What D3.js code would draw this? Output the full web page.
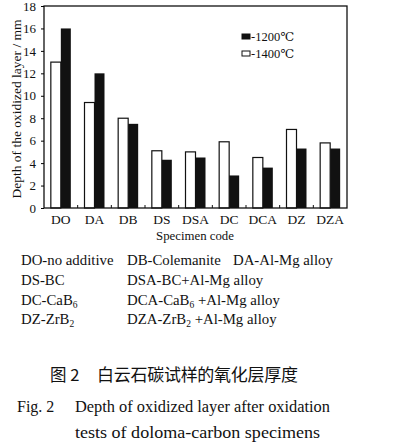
<!DOCTYPE html>
<html>
<head>
<meta charset="utf-8">
<script src="https://cdn.jsdelivr.net/npm/d3@7"></script>
<style>
  body { margin: 0; background: #fff; }
  svg text { font-family: "Liberation Serif", "DejaVu Serif", serif; fill: #111; }
</style>
</head>
<body>
<div id="chart"></div>
<script>
const codes = ['DO', 'DA', 'DB', 'DS', 'DSA', 'DC', 'DCA', 'DZ', 'DZA']
const t1400 = [13.0, 9.4, 8.0, 5.1, 5.0, 5.9, 4.5, 7.0, 5.8]
const t1200 = [16.0, 12.0, 7.5, 4.3, 4.5, 2.9, 3.6, 5.3, 5.3]
const yTicks = [0, 2, 4, 6, 8, 10, 12, 14, 16, 18]

const width = 397
const height = 445
const m = { left: 44, top: 6, right: 347, bottom: 208 }

const svg = d3.select('#chart')
  .append('svg')
  .attr('width', width)
  .attr('height', height)

const x = d3.scaleBand().domain(codes).range([m.left, m.right]).padding(0)
const y = d3.scaleLinear().domain([0, 18]).range([m.bottom, m.top])
const bw = 10

// bars
const g = svg.append('g')
g.selectAll('.b1400')
  .data(codes)
  .enter().append('rect')
  .attr('x', (d) => x(d) + x.bandwidth() / 2 - bw)
  .attr('y', (d, i) => y(t1400[i]))
  .attr('width', bw)
  .attr('height', (d, i) => y(0) - y(t1400[i]))
  .attr('fill', '#fff')
  .attr('stroke', '#111')
  .attr('stroke-width', 1.2)

g.selectAll('.b1200')
  .data(codes)
  .enter().append('rect')
  .attr('x', (d) => x(d) + x.bandwidth() / 2)
  .attr('y', (d, i) => y(t1200[i]))
  .attr('width', bw)
  .attr('height', (d, i) => y(0) - y(t1200[i]))
  .attr('fill', '#111')

// frame
svg.append('rect')
  .attr('x', m.left).attr('y', m.top)
  .attr('width', m.right - m.left).attr('height', m.bottom - m.top)
  .attr('fill', 'none').attr('stroke', '#111').attr('stroke-width', 1.3)

// y axis
const yAxis = svg.append('g')
  .attr('transform', `translate(${m.left},0)`)
  .call(d3.axisLeft(y).tickValues(yTicks).tickSize(3).tickPadding(5))
yAxis.select('.domain').remove()
yAxis.selectAll('text').attr('font-size', 13).style('font-family', '"Liberation Serif", serif')

// x axis
const xAxis = svg.append('g')
  .attr('transform', `translate(0,${m.bottom})`)
  .call(d3.axisBottom(x).tickSize(0).tickPadding(6))
xAxis.select('.domain').remove()
xAxis.selectAll('text').attr('font-size', 13.5).style('font-family', '"Liberation Serif", serif')

// category separator ticks
svg.selectAll('.sep')
  .data(codes.slice(1))
  .enter().append('line')
  .attr('x1', (d) => x(d)).attr('x2', (d) => x(d))
  .attr('y1', m.bottom).attr('y2', m.bottom - 3)
  .attr('stroke', '#111')

// axis titles
svg.append('text')
  .attr('transform', `translate(21,${(m.top + m.bottom) / 2 + 2}) rotate(-90)`)
  .attr('text-anchor', 'middle')
  .attr('font-size', 13.5)
  .text('Depth of the oxidized layer / mm')

svg.append('text')
  .attr('x', 195).attr('y', 240)
  .attr('text-anchor', 'middle')
  .attr('font-size', 12.8)
  .text('Specimen code')

// legend
const legend = [['-1200℃', '#111'], ['-1400℃', '#fff']]
legend.forEach((l, i) => {
  svg.append('rect')
    .attr('x', 242).attr('y', 34 + i * 17)
    .attr('width', 8).attr('height', 5)
    .attr('fill', l[1]).attr('stroke', '#111')
  svg.append('text')
    .attr('x', 251).attr('y', 41 + i * 17)
    .attr('font-size', 12.5)
    .text(l[0])
})

// code notes
const notes = [
  [21, 265, 'DO-no additive'], [127, 265, 'DB-Colemanite'], [233, 265, 'DA-Al-Mg alloy'],
  [21, 285, 'DS-BC'], [127, 285, 'DSA-BC+Al-Mg alloy'],
  [21, 305, 'DC-CaB<tspan font-size="9.5" dy="3">6</tspan>'],
  [127, 305, 'DCA-CaB<tspan font-size="9.5" dy="3">6</tspan><tspan dy="-3"> +Al-Mg alloy</tspan>'],
  [21, 324, 'DZ-ZrB<tspan font-size="9.5" dy="3">2</tspan>'],
  [127, 324, 'DZA-ZrB<tspan font-size="9.5" dy="3">2</tspan><tspan dy="-3"> +Al-Mg alloy</tspan>']
]
notes.forEach((n) => {
  svg.append('text')
    .attr('x', n[0]).attr('y', n[1])
    .attr('font-size', 14.8)
    .html(n[2])
})

// caption
svg.append('text')
  .attr('x', 50).attr('y', 381)
  .attr('font-size', 16.5)
  .style('font-family', '"Noto Sans CJK SC", sans-serif')
  .text('图 2')
svg.append('text')
  .attr('x', 97).attr('y', 381)
  .attr('font-size', 17)
  .attr('textLength', 201)
  .style('font-family', '"Noto Sans CJK SC", sans-serif')
  .text('白云石碳试样的氧化层厚度')

svg.append('text')
  .attr('x', 17).attr('y', 412)
  .attr('font-size', 16)
  .text('Fig. 2')
svg.append('text')
  .attr('x', 75).attr('y', 412)
  .attr('font-size', 16)
  .attr('textLength', 255)
  .attr('lengthAdjust', 'spacingAndGlyphs')
  .text('Depth of oxidized layer after oxidation')
svg.append('text')
  .attr('x', 75).attr('y', 438)
  .attr('font-size', 16)
  .attr('textLength', 245)
  .attr('lengthAdjust', 'spacingAndGlyphs')
  .text('tests of doloma-carbon specimens')
</script>
</body>
</html>
